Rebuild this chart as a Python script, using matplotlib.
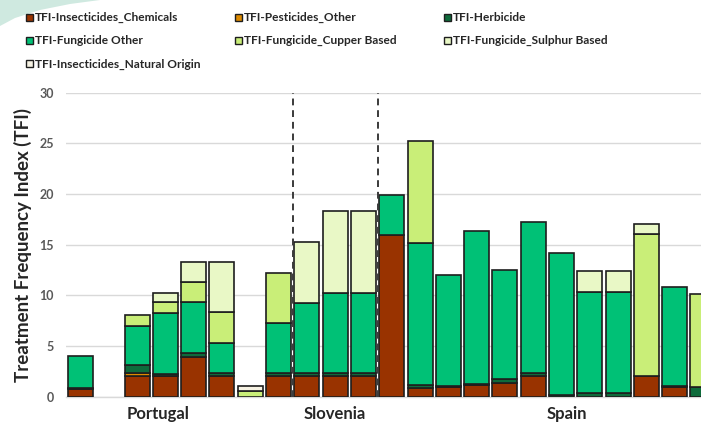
import matplotlib
matplotlib.use("Agg")
import matplotlib.pyplot as plt
from matplotlib.patches import Rectangle, Polygon
import numpy as np

plt.rcParams['font.family'] = ['Lato', 'DejaVu Sans']

# ---------------- data ----------------
series_names = ["TFI-Insecticides_Chemicals", "TFI-Pesticides_Other", "TFI-Herbicide",
                "TFI-Fungicide Other", "TFI-Fungicide_Cupper Based",
                "TFI-Fungicide_Sulphur Based", "TFI-Insecticides_Natural Origin"]

#                 0     1    2     3     4     5    6    7     8     9     10    11    12     13    14    15    16    17    18     19     20    21    22
insect_chem  = [0.75, 0, 2.0, 2.0, 3.95, 2.0, 0, 2.0, 2.0, 2.0, 2.0, 16.0, 0.85, 1.0, 1.15, 1.4, 2.0, 0, 0, 0, 2.0, 1.0, 0]
pest_other   = [0, 0, 0.3, 0, 0, 0, 0, 0, 0, 0, 0, 0, 0, 0, 0, 0, 0, 0, 0, 0, 0, 0, 0]
herbicide    = [0.15, 0, 0.8, 0.25, 0.4, 0.3, 0, 0.3, 0.3, 0.3, 0.3, 0, 0.35, 0.1, 0.15, 0.3, 0.3, 0.15, 0.35, 0.35, 0, 0.1, 1.0]
fung_other   = [3.15, 0, 3.9, 6.05, 4.95, 2.97, 0, 4.95, 6.98, 7.9, 7.9, 3.9, 13.94, 10.9, 15.06, 10.8, 14.97, 14.0, 10.02, 10.02, 0, 9.76, 0]
fung_cupper  = [0, 0, 1.1, 1.05, 2.0, 3.05, 0.6, 4.95, 0, 0, 0, 0, 10.1, 0, 0, 0, 0, 0, 0, 0, 14.05, 0, 9.1]
fung_sulphur = [0, 0, 0, 0.92, 2.03, 5.0, 0, 0, 6.0, 8.1, 8.1, 0, 0, 0, 0, 0, 0, 0, 2.07, 2.07, 1.02, 0, 0]
insect_nat   = [0, 0, 0, 0, 0, 0, 0.5, 0, 0, 0, 0, 0, 0, 0, 0, 0, 0, 0, 0, 0, 0, 0, 0]

countries = ["Portugal", "Slovenia", "Spain"]
country_pos = [2.75, 9.0, 17.2]
separators = [7.5, 10.5]
y_ticks = [0, 5, 10, 15, 20, 25, 30]

colors = ["#993300", "#DD8A00", "#0E6B3B", "#00C176", "#C9EE78", "#E9F8C6", "#F6F2E3"]

# ---------------- figure ----------------
W, H = 701, 423
fig = plt.figure(figsize=(W / 100, H / 100), dpi=100)

# decorative swoosh top-left
swoosh = Polygon([(0, 1), (100 / W, 1), (70 / W, 1 - 4 / H), (40 / W, 1 - 10 / H),
                  (15 / W, 1 - 18 / H), (0, 1 - 26 / H)],
                 closed=True, transform=fig.transFigure, facecolor="#cfe9e0",
                 edgecolor="none", zorder=0)
fig.add_artist(swoosh)

slot = 28.29
left_px = 66.4
ax = fig.add_axes([left_px / W, (H - 396.7) / H, 24 * slot / W, 303.9 / H])

all_series = [insect_chem, pest_other, herbicide, fung_other, fung_cupper, fung_sulphur, insect_nat]
x = np.arange(len(insect_chem))
bottom = np.zeros(len(x))
for vals, col, name in zip(all_series, colors, series_names):
    v = np.array(vals, dtype=float)
    m = v > 0
    ax.bar(x[m], v[m], bottom=bottom[m], width=0.884, color=col, edgecolor="#1e1e1e",
           linewidth=1.2, label=name, zorder=3)
    bottom += v

ax.set_xlim(-0.5, 23.5)
ax.set_ylim(0, 30)
ax.set_yticks(y_ticks)
ax.set_yticklabels([str(t) for t in y_ticks], fontsize=9, fontweight="bold", color="#595959")
ax.tick_params(axis="y", length=0, pad=9)
ax.set_xticks([])
ax.yaxis.grid(True, color="#D9D9D9", linewidth=1.0, zorder=0)
ax.set_axisbelow(True)
for s in ["top", "right", "left"]:
    ax.spines[s].set_visible(False)
ax.spines["bottom"].set_color("#D9D9D9")
ax.spines["bottom"].set_linewidth(1.0)

for sx in separators:
    ax.plot([sx, sx], [0, 30], color="#3a3a3a", linestyle=(0, (3.5, 2.5)), linewidth=1.4,
            zorder=4, clip_on=False)

for name, p in zip(countries, country_pos):
    ax.text(p, -1.75, name, ha="center", va="center", fontsize=12, fontweight="bold",
            color="#262626")

ax.set_ylabel("Treatment Frequency Index (TFI)", fontsize=13.5, fontweight="bold",
              color="#262626", labelpad=5)

# legend (manual layout)
col_x = [26, 235, 444]
row_y = [17.5, 40.5, 64]
for i, (name, col) in enumerate(zip(series_names, colors)):
    cx = col_x[i % 3]
    cy = row_y[i // 3]
    fig.add_artist(Rectangle((cx / W, 1 - (cy + 3.5) / H), 7 / W, 7 / H,
                             transform=fig.transFigure, facecolor=col,
                             edgecolor="#1e1e1e", linewidth=1.0))
    fig.text((cx + 9) / W, 1 - cy / H, name, ha="left", va="center", fontsize=8.6,
             fontweight="bold", color="#262626")

fig.savefig("out.png", dpi=100)
